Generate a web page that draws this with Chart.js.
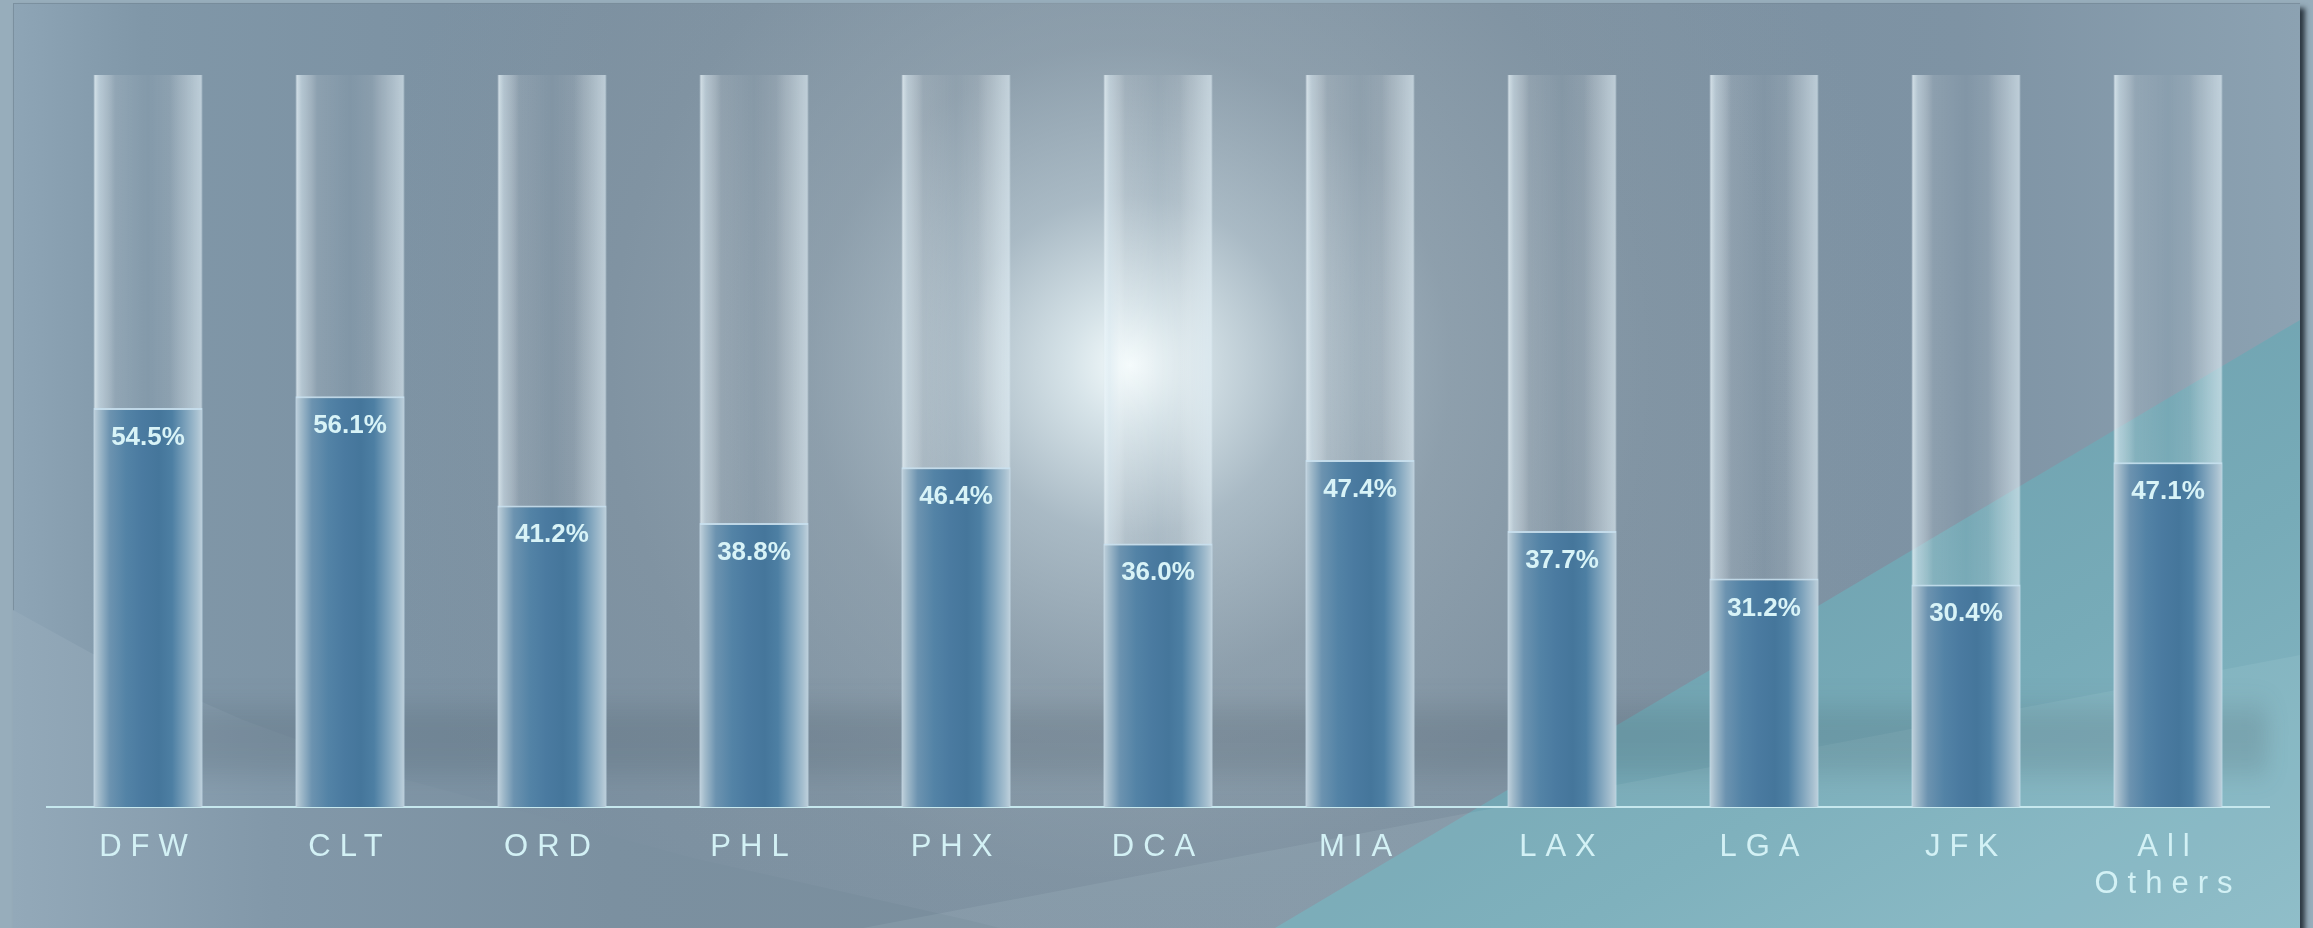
<!DOCTYPE html>
<html>
<head>
<meta charset="utf-8">
<title>Share by airport</title>
<script src="https://cdn.jsdelivr.net/npm/chart.js@4.4.1/dist/chart.umd.min.js"></script>
<style>
  html, body { margin: 0; padding: 0; background: #97adbb; overflow: hidden; }
  #stage { position: relative; width: 2313px; height: 928px; }
  #panel {
    position: absolute; left: 13px; top: 3px; width: 2287px; height: 960px; overflow: hidden;
    background: linear-gradient(90deg, #8ea5b6 0px, #8097a8 130px, #7a8fa0 600px, #7b90a1 1500px, #7e93a4 1950px, #8ca2b2 2287px);
    box-shadow: 5px 5px 5px rgba(25, 35, 45, 0.85), inset 1px 1px 0 rgba(115, 135, 150, 0.7);
  }
  .layer { position: absolute; left: 0; top: 0; width: 100%; height: 100%; }
  #glow {
    background: radial-gradient(circle at 1117px 362px,
      rgba(244, 251, 252, 1) 0px,
      rgba(224, 236, 240, 0.9) 60px,
      rgba(198, 212, 219, 0.62) 170px,
      rgba(172, 184, 191, 0.38) 320px,
      rgba(152, 163, 170, 0.2) 520px,
      rgba(142, 153, 160, 0) 780px);
  }
  #swoosh {
    background: linear-gradient(90deg, #93a9b9 0px, #8298a9 260px, #7b90a0 600px, #7a8e9d 1000px);
    clip-path: polygon(0px 607px, 78px 650px, 230px 717px, 394px 777px, 680px 855px, 955px 917px, 987px 925px, 987px 960px, 0px 960px);
  }
  #teal {
    background: linear-gradient(150deg, #6c9eac 0%, #6c9eac 58%, #77abb8 80%, #8abac6 100%);
    clip-path: polygon(1262px 925px, 2287px 317px, 2287px 960px, 1262px 960px);
  }
  #band {
    background: rgba(235, 250, 255, 0.08);
    clip-path: polygon(850px 925px, 2287px 652px, 2287px 960px, 850px 960px);
  }
  #shade {
    position: absolute; left: 150px; top: 688px; width: 2105px; height: 96px;
    background: linear-gradient(180deg, rgba(50, 65, 75, 0) 0%, rgba(50, 65, 75, 0.17) 35%, rgba(50, 65, 75, 0.14) 75%, rgba(50, 65, 75, 0) 100%);
    filter: blur(10px);
  }
  canvas { position: absolute; left: 0; top: 0; }
</style>
</head>
<body>
<div id="stage">
  <div id="panel">
    <div class="layer" id="glow"></div>
    <div class="layer" id="swoosh"></div>
    <div class="layer" id="teal"></div>
    <div class="layer" id="band"></div>
    <div id="shade"></div>
  </div>
  <canvas id="chart" width="2313" height="928"></canvas>
</div>
<script>
// Airports and their shares (percent)
const airports = ['DFW', 'CLT', 'ORD', 'PHL', 'PHX', 'DCA', 'MIA', 'LAX', 'LGA', 'JFK', ['All', 'Others']];
const shares = [54.5, 56.1, 41.2, 38.8, 46.4, 36.0, 47.4, 37.7, 31.2, 30.4, 47.1];
// Full-height glass tubes behind each bar
const tubeTops = [100, 100, 100, 100, 100, 100, 100, 100, 100, 100, 100];

const FONT = '"Liberation Sans", Arial, Helvetica, sans-serif';
const BAR_FRACTION = 0.54;

// Horizontal gradient across one bar, so each bar looks like a rounded column
function columnGradient(stops, fallback) {
  return (ctx) => {
    const chart = ctx.chart;
    const xs = chart.scales && chart.scales.x;
    if (!xs || !chart.chartArea || ctx.dataIndex === undefined) return fallback;
    const cx = xs.getPixelForValue(ctx.dataIndex);
    const w = xs.width / airports.length * BAR_FRACTION;
    const g = chart.ctx.createLinearGradient(cx - w / 2, 0, cx + w / 2, 0);
    stops.forEach(([p, c]) => g.addColorStop(p, c));
    return g;
  };
}

const fillStops = [
  [0.00, '#c2d3de'], [0.05, '#a2bbcb'], [0.15, '#6c93b0'], [0.30, '#5383a6'],
  [0.45, '#4a7aa0'], [0.60, '#45769b'], [0.72, '#4d7fa3'], [0.85, '#7ea3bc'],
  [0.95, '#a7c0d0'], [1.00, '#c0d2dd']
];
const tubeStops = [
  [0.00, 'rgba(236,246,250,0.82)'], [0.06, 'rgba(222,236,243,0.55)'], [0.20, 'rgba(255,255,255,0.12)'],
  [0.50, 'rgba(255,255,255,0.03)'], [0.70, 'rgba(255,255,255,0.10)'], [0.86, 'rgba(236,246,250,0.38)'],
  [1.00, 'rgba(226,239,246,0.64)']
];

// Percent text just inside the top of each filled bar
const valueLabels = {
  id: 'valueLabels',
  afterDatasetsDraw(chart) {
    const meta = chart.getDatasetMeta(0);
    const c = chart.ctx;
    c.save();
    c.letterSpacing = '0px';
    c.font = 'bold 26px ' + FONT;
    c.fillStyle = '#d8f3f7';
    c.textAlign = 'center';
    c.textBaseline = 'alphabetic';
    meta.data.forEach((bar, i) => {
      c.fillText(shares[i].toFixed(1) + '%', bar.x, bar.y + 37);
    });
    c.restore();
  }
};

// Wide letter spacing for the airport codes
const spacedTicks = {
  id: 'spacedTicks',
  beforeDraw(chart) { chart.ctx.letterSpacing = '9px'; }
};

new Chart(document.getElementById('chart'), {
  type: 'bar',
  data: {
    labels: airports,
    datasets: [
      {
        data: shares,
        order: 0,
        grouped: false,
        backgroundColor: columnGradient(fillStops, '#4a7aa0'),
        borderColor: 'rgba(200,224,240,0.85)',
        borderWidth: { top: 2, left: 1, right: 1, bottom: 0 },
        borderSkipped: false,
        categoryPercentage: 1,
        barPercentage: BAR_FRACTION
      },
      {
        data: tubeTops,
        order: 1,
        grouped: false,
        backgroundColor: columnGradient(tubeStops, 'rgba(255,255,255,0.2)'),
        borderColor: 'rgba(225,238,246,0.45)',
        borderWidth: { top: 0, left: 1, right: 1, bottom: 0 },
        borderSkipped: false,
        categoryPercentage: 1,
        barPercentage: BAR_FRACTION
      }
    ]
  },
  options: {
    responsive: false,
    devicePixelRatio: 1,
    animation: false,
    layout: { padding: { left: 47, right: 44, top: 75, bottom: 0 } },
    plugins: { legend: { display: false }, tooltip: { enabled: false } },
    scales: {
      x: {
        offset: true,
        grid: { display: false, drawTicks: false },
        border: { display: true, color: '#c6e8ee', width: 2 },
        ticks: {
          color: '#d3f1f5',
          font: { family: FONT, size: 31, lineHeight: 1.2 },
          padding: 22,
          autoSkip: false,
          maxRotation: 0,
          minRotation: 0
        },
        afterFit(scale) { scale.height = 121; }
      },
      y: { display: false, min: 0, max: 100 }
    }
  },
  plugins: [spacedTicks, valueLabels]
});
</script>
</body>
</html>
